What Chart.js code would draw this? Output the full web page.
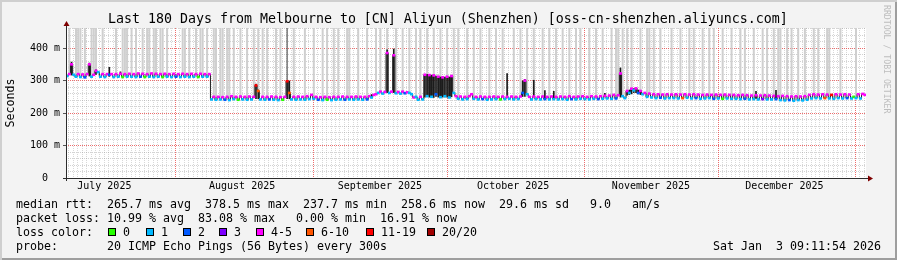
<!DOCTYPE html>
<html>
<head>
<meta charset="utf-8">
<script src="https://cdn.jsdelivr.net/npm/chart.js@4/dist/chart.umd.min.js"></script>
<style>
  body { margin: 0; background: #fff; }
  #wrap {
    position: relative; width: 897px; height: 260px; overflow: hidden;
    background: #f3f3f3; color: #000;
    font-family: "DejaVu Sans Mono", monospace;
    box-shadow: inset 2px 2px 0 #cfcfcf, inset -2px -2px 0 #9e9e9e;
  }
  canvas { position: absolute; left: 0; top: 0; }
  .t { position: absolute; white-space: pre; font-size: 11.63px; line-height: 14px; }
  #title { position: absolute; left: 108px; top: 11px; white-space: pre; font-size: 13.29px; line-height: 16px; }
  #credit { position: absolute; left: 882px; top: 5px; writing-mode: vertical-rl; white-space: pre;
    font-size: 8.2px; line-height: 10px; color: #bdbdbd; }
  .box { position: absolute; top: 228px; width: 6px; height: 6px; border: 1px solid #000; }
</style>
</head>
<body>
<div id="wrap">
  <canvas id="graph" width="897" height="260"></canvas>
  <div id="title">Last 180 Days from Melbourne to [CN] Aliyun (Shenzhen) [oss-cn-shenzhen.aliyuncs.com]</div>
  <div id="credit">RRDTOOL / TOBI OETIKER</div>
  <div class="t" style="left:16px;top:197px">median rtt:  265.7 ms avg  378.5 ms max  237.7 ms min  258.6 ms now  29.6 ms sd   9.0   am/s</div>
  <div class="t" style="left:16px;top:211px">packet loss: 10.99 % avg  83.08 % max   0.00 % min  16.91 % now</div>
  <div class="t" style="left:16px;top:225px">loss color:</div>
  <div id="losslegend"></div>
  <div class="t" style="left:16px;top:239px">probe:       20 ICMP Echo Pings (56 Bytes) every 300s</div>
  <div class="t" style="left:713px;top:239px">Sat Jan  3 09:11:54 2026</div>
</div>
<script>
'use strict';

// loss colour classes (smokeping defaults for 20 pings)
let lossLabels = ['0', '1', '2', '3', '4-5', '6-10', '11-19', '20/20'];
let lossColors = ['#26ff00', '#00b8ff', '#0059ff', '#7e00ff', '#ff00ff', '#ff5500', '#ff0000', '#a10000'];

// x axis is days since Jul 7 2025 09:00
let monthStarts = [24.625, 55.625, 85.625, 116.625, 146.625, 177.625];
let monthMids = [8.625, 39.625, 70.625, 100.625, 131.625, 161.625];
let monthNames = ['July 2025', 'August 2025', 'September 2025', 'October 2025', 'November 2025', 'December 2025'];

// median rtt in ms, one value per 12 hours
let median = [
  314, 320, 350, 318, 312, 320, 311, 319, 310, 320, 350, 312, 318, 330, 326, 312, 320, 311, 320, 318,
  320, 311, 320, 312, 321, 311, 320, 312, 321, 312, 320, 311, 322, 312, 321, 311, 320, 312, 322, 311,
  321, 312, 320, 311, 321, 312, 320, 311, 321, 312, 320, 311, 321, 312, 320, 311, 321, 312, 320, 311,
  321, 312, 320, 312, 320, 242, 250, 241, 250, 242, 249, 241, 250, 240, 252, 243, 250, 241, 251, 242,
  250, 241, 251, 242, 250, 285, 268, 242, 250, 241, 250, 242, 251, 241, 250, 240, 249, 241, 250, 298,
  262, 242, 250, 241, 251, 242, 250, 241, 252, 243, 256, 244, 250, 241, 249, 240, 250, 241, 249, 240,
  250, 241, 250, 242, 251, 241, 250, 242, 250, 241, 251, 242, 250, 241, 250, 242, 252, 248, 256, 258,
  262, 266, 260, 265, 385, 262, 266, 378, 261, 265, 260, 266, 261, 264, 262, 258, 248, 250, 241, 250,
  242, 318, 252, 317, 250, 316, 258, 312, 249, 310, 252, 312, 248, 314, 262, 252, 244, 251, 242, 250,
  243, 252, 258, 244, 250, 242, 251, 243, 250, 241, 250, 242, 251, 243, 250, 242, 251, 243, 250, 244,
  251, 242, 250, 243, 251, 262, 300, 258, 250, 242, 251, 243, 250, 242, 251, 243, 250, 242, 251, 243,
  250, 242, 251, 243, 250, 241, 252, 243, 250, 242, 251, 244, 252, 243, 250, 242, 252, 244, 251, 243,
  252, 244, 253, 245, 254, 244, 256, 245, 255, 322, 252, 246, 268, 262, 275, 270, 276, 262, 268, 258,
  262, 250, 260, 248, 258, 246, 258, 247, 257, 245, 258, 246, 257, 246, 258, 245, 257, 246, 258, 247,
  257, 245, 258, 246, 257, 244, 256, 245, 257, 246, 256, 244, 257, 245, 256, 244, 257, 245, 256, 244,
  256, 244, 255, 243, 256, 244, 255, 242, 254, 243, 255, 242, 254, 243, 255, 242, 254, 242, 253, 243,
  252, 240, 253, 239, 252, 240, 251, 238, 252, 240, 251, 239, 252, 241, 256, 245, 258, 246, 257, 245,
  258, 246, 257, 245, 256, 244, 258, 246, 257, 245, 258, 246, 257, 245, 250, 246, 258, 245, 259, 256
];

// loss class (index into lossColors) for each median value
let loss = [
  1, 4, 4, 1, 1, 4, 1, 4, 2, 4, 4, 1, 4, 4, 1, 1, 4, 1, 4, 2,
  4, 1, 4, 1, 4, 0, 4, 1, 4, 1, 4, 1, 4, 2, 4, 0, 4, 1, 4, 1,
  4, 1, 4, 0, 4, 1, 4, 1, 4, 2, 4, 1, 4, 1, 4, 1, 4, 1, 4, 0,
  4, 1, 4, 1, 4, 1, 4, 1, 4, 1, 4, 2, 4, 1, 4, 1, 4, 0, 4, 1,
  4, 1, 4, 1, 4, 6, 5, 1, 4, 1, 4, 2, 4, 1, 4, 1, 4, 0, 4, 6,
  5, 1, 4, 1, 4, 1, 4, 1, 4, 1, 4, 1, 4, 2, 4, 1, 4, 0, 4, 1,
  4, 1, 4, 1, 4, 2, 4, 1, 4, 1, 4, 1, 4, 1, 4, 2, 4, 1, 4, 4,
  1, 4, 1, 4, 4, 1, 4, 4, 1, 4, 1, 4, 2, 4, 1, 1, 4, 1, 1, 4,
  1, 4, 1, 4, 1, 4, 2, 4, 1, 4, 1, 4, 1, 4, 1, 4, 1, 4, 1, 4,
  1, 4, 4, 1, 4, 1, 4, 2, 4, 1, 4, 1, 4, 1, 4, 0, 4, 1, 4, 1,
  4, 1, 4, 1, 4, 2, 4, 1, 4, 1, 4, 1, 4, 1, 4, 2, 4, 1, 4, 1,
  4, 1, 4, 1, 4, 1, 4, 2, 4, 1, 4, 1, 4, 1, 4, 1, 4, 1, 4, 2,
  4, 1, 4, 1, 4, 1, 4, 2, 4, 4, 1, 1, 4, 1, 4, 1, 4, 2, 4, 1,
  4, 1, 4, 1, 4, 1, 4, 2, 4, 1, 4, 1, 4, 1, 4, 1, 4, 5, 4, 1,
  4, 1, 4, 2, 4, 1, 4, 1, 4, 1, 4, 2, 4, 1, 4, 0, 4, 1, 4, 1,
  4, 1, 4, 1, 4, 2, 4, 1, 4, 1, 4, 1, 4, 3, 4, 1, 4, 1, 4, 2,
  4, 1, 4, 1, 4, 2, 4, 1, 4, 1, 4, 1, 4, 1, 4, 1, 4, 1, 4, 1,
  4, 5, 4, 1, 6, 1, 4, 1, 4, 1, 4, 2, 4, 1, 0, 1, 4, 1, 4, 4
];

// dense (dark) smoke: spikes, bucket index with low/high ms
let spikeIdx = [2, 10, 13, 19, 24, 85, 86, 99, 100, 137, 144, 147,
  161, 162, 163, 164, 165, 166, 167, 168, 169, 170, 171, 172, 173,
  198, 205, 206, 210, 215, 219, 242, 249, 252, 253, 254, 255, 256, 257, 258, 310, 319];
let spikeLo = [316, 313, 318, 312, 318, 243, 243, 243, 243, 246, 262, 262,
  248, 250, 248, 248, 247, 250, 248, 248, 248, 249, 248, 248, 249,
  248, 250, 250, 250, 246, 246, 250, 248, 254, 256, 258, 262, 262, 258, 256, 244, 244];
let spikeHi = [358, 355, 334, 342, 328, 290, 272, 302, 300, 258, 396, 398,
  320, 320, 319, 318, 318, 315, 314, 312, 313, 312, 313, 312, 315,
  323, 300, 305, 302, 270, 268, 262, 340, 270, 272, 276, 276, 278, 272, 270, 268, 271];

// thin smoke going off the top of the graph
let tallSmokeIdx = [1, 4, 5, 6, 8, 11, 12, 13, 16, 22, 25, 26, 27, 29, 31, 34, 36, 37, 39, 40, 42, 43, 45,
  52, 53, 55, 58, 60, 61, 63, 66, 67, 69, 70, 72, 73, 75, 78, 81, 84, 86, 88, 90, 94, 96,
  102, 107, 111, 115, 117, 120, 122, 126, 127, 131, 135, 139, 141, 144, 148, 151, 154, 157, 159,
  162, 165, 168, 171, 174, 176, 180, 183, 186, 190, 193, 196, 201, 204, 207, 210, 214, 217, 220,
  223, 226, 229, 231, 235, 238, 241, 245, 247, 248, 250, 252, 254, 258, 261, 262, 264, 267, 272,
  276, 280, 282, 286, 289, 291, 295, 299, 303, 305, 309, 313, 315, 318, 320, 321, 324, 326, 329,
  332, 336, 338, 342, 343, 348, 355];
let darkTallIdx = [99];

let yMax = 462;

function bucketX(i) {
  return i * 0.5 + 0.25;
}

let tallData = tallSmokeIdx.map(i => ({x: bucketX(i), y: [median[i], 480]}));
let darkTallData = darkTallIdx.map(i => ({x: bucketX(i), y: [median[i], 480]}));
let spikeData = spikeIdx.map((i, k) => ({x: bucketX(i), y: [spikeLo[k], spikeHi[k]]}));
let medianLine = median.map((v, i) => ({x: bucketX(i), y: v}));
let medianDash = median.map((v, i) => ({x: bucketX(i), y: [v - 3, v + 3]}));
let medianColors = loss.map(l => lossColors[l]);

// loss colour legend row
let legendX = [108, 146, 183, 219, 256, 306, 366, 427];
let legendBox = document.getElementById('losslegend');
for (let i = 0; i < lossLabels.length; i++) {
  let box = document.createElement('div');
  box.className = 'box';
  box.style.left = legendX[i] + 'px';
  box.style.background = lossColors[i];
  legendBox.appendChild(box);
  let txt = document.createElement('div');
  txt.className = 't';
  txt.style.left = (legendX[i] + 15) + 'px';
  txt.style.top = '225px';
  txt.textContent = lossLabels[i];
  legendBox.appendChild(txt);
}

let redGrid = 'rgba(230,60,60,0.75)';
let grayGrid = 'rgba(143,143,143,0.4)';

function isMonthStart(v) {
  return monthStarts.some(m => Math.abs(m - v) < 0.05);
}

let frame = {
  id: 'frame',
  beforeDraw(chart) {
    const {ctx, chartArea: a} = chart;
    ctx.save();
    ctx.fillStyle = '#fff';
    ctx.fillRect(a.left, a.top, a.right - a.left, a.bottom - a.top);
    ctx.restore();
  },
  beforeDatasetsDraw(chart) {
    // month boundaries, on top of the daily grid
    const {ctx, chartArea: a, scales} = chart;
    ctx.save();
    ctx.strokeStyle = redGrid;
    ctx.lineWidth = 1;
    ctx.setLineDash([1, 1]);
    ctx.beginPath();
    for (const m of monthStarts) {
      let px = Math.round(scales.x.getPixelForValue(m)) + 0.5;
      ctx.moveTo(px, a.top);
      ctx.lineTo(px, a.bottom);
    }
    ctx.stroke();
    ctx.restore();
  },
  afterDraw(chart) {
    const {ctx, chartArea: a} = chart;
    let x0 = a.left + 0.5;
    let y0 = a.bottom + 0.5;
    ctx.save();
    ctx.strokeStyle = '#2c2c2c';
    ctx.lineWidth = 1;
    ctx.beginPath();
    ctx.moveTo(a.left - 3, y0);
    ctx.lineTo(a.right + 2, y0);
    ctx.moveTo(x0, a.bottom + 3);
    ctx.lineTo(x0, a.top - 2);
    ctx.stroke();
    ctx.fillStyle = '#7f0000';
    ctx.beginPath();
    ctx.moveTo(a.right + 2, y0 - 3);
    ctx.lineTo(a.right + 7, y0);
    ctx.lineTo(a.right + 2, y0 + 3);
    ctx.fill();
    ctx.beginPath();
    ctx.moveTo(x0 - 3, a.top - 2);
    ctx.lineTo(x0, a.top - 7);
    ctx.lineTo(x0 + 3, a.top - 2);
    ctx.fill();
    ctx.restore();
  }
};

let barCommon = {grouped: false, barPercentage: 1, categoryPercentage: 1, borderWidth: 0};
let mono = '"DejaVu Sans Mono", monospace';

const ctx = document.getElementById('graph').getContext('2d');
let graph = new Chart(ctx, { //eslint-disable-line
  type: 'bar',
  data: {
    datasets: [
      Object.assign({label: 'median', data: medianDash, backgroundColor: medianColors, order: 0}, barCommon),
      {type: 'line', label: 'median line', data: medianLine, stepped: 'middle', borderColor: '#1e1e1e',
        borderWidth: 1, pointRadius: 0, order: 1},
      Object.assign({label: 'smoke', data: spikeData, backgroundColor: '#1c1c1c', order: 2}, barCommon, {barPercentage: 0.75}),
      Object.assign({label: 'dark tall', data: darkTallData, backgroundColor: '#4a4a4a', order: 3}, barCommon, {barPercentage: 0.5}),
      Object.assign({label: 'tall smoke', data: tallData, backgroundColor: '#cfcfcf', order: 4}, barCommon, {barPercentage: 0.9})
    ]
  },
  options: {
    responsive: false,
    animation: false,
    devicePixelRatio: 1,
    layout: {padding: {left: 0, top: 28, right: 31, bottom: 65}},
    plugins: {legend: {display: false}, tooltip: {enabled: false}},
    scales: {
      x: {
        type: 'linear',
        min: 0,
        max: 180,
        offset: false,
        afterFit(scale) { scale.height = 17; },
        afterBuildTicks(scale) {
          let t = [];
          for (let d = 0.625; d < 180; d += 1) t.push({value: d});
          scale.ticks = t;
        },
        grid: {
          offset: false,
          drawTicks: false,
          color: c => (c.tick && isMonthStart(c.tick.value)) ? 'rgba(0,0,0,0)' : 'rgba(143,143,143,0.35)'
        },
        border: {display: false, dash: [1, 1]},
        ticks: {
          autoSkip: false,
          maxRotation: 0,
          padding: 2.5,
          color: '#000',
          font: {family: mono, size: 10},
          callback: v => {
            let k = monthMids.findIndex(m => Math.abs(m - v) < 0.05);
            return k >= 0 ? monthNames[k] : '';
          }
        }
      },
      y: {
        min: 0,
        max: yMax,
        afterFit(scale) { scale.width = 66; },
        afterBuildTicks(scale) {
          let t = [];
          for (let v = 0; v <= 460; v += 20) t.push({value: v});
          scale.ticks = t;
        },
        grid: {
          drawTicks: true,
          tickLength: 3,
          color: c => c.tick.value % 100 === 0 ? redGrid : grayGrid,
          tickColor: c => c.tick.value % 100 === 0 ? '#555' : 'rgba(0,0,0,0)'
        },
        border: {display: false, dash: [1, 1]},
        title: {display: true, text: 'Seconds', color: '#000', padding: {top: 4, bottom: 0},
          font: {family: mono, size: 11.63}},
        ticks: {
          autoSkip: false,
          padding: 3,
          color: '#000',
          font: {family: mono, size: 10},
          callback: v => v % 100 === 0 ? (v === 0 ? '0  ' : v + ' m') : ''
        }
      }
    }
  },
  plugins: [frame]
});
</script>
</body>
</html>
